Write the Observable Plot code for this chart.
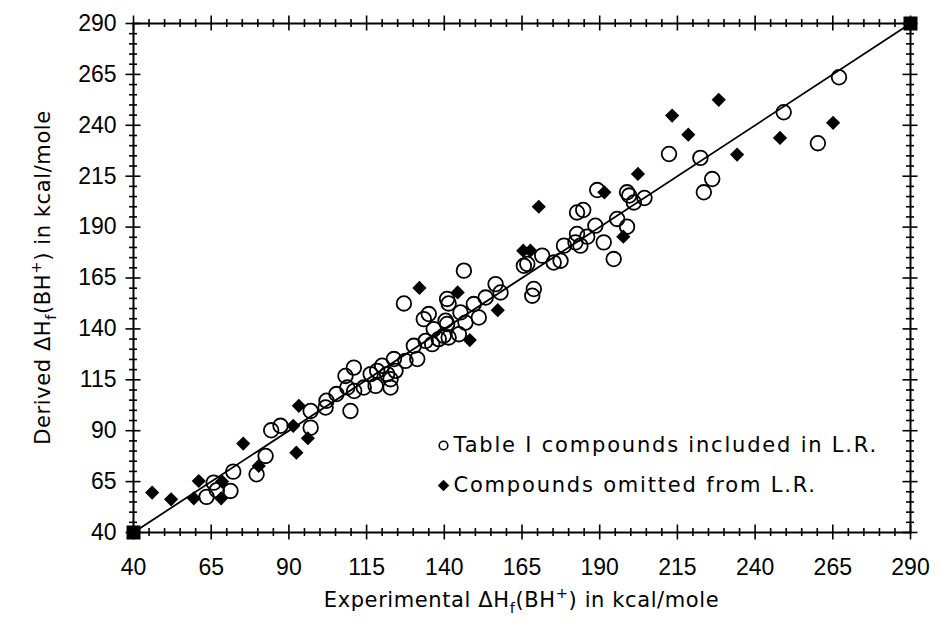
<!DOCTYPE html>
<html><head><meta charset="utf-8">
<script src="https://cdn.jsdelivr.net/npm/d3@7"></script>
<script src="https://cdn.jsdelivr.net/npm/@observablehq/plot@0.6"></script>
<style>body{margin:0;background:#fff}</style>
</head><body><div id="chart"></div>
<script>
// Table I compounds included in L.R. (open circles)
const includedX = [63.5,65.8,66.8,71.2,72.1,79.6,82.5,84.3,87.3,
  97.0,97.0,101.8,102.1,105.3,108.8,109.8,108.2,110.9,114.1,117.9,116.3,118.4,120.0,121.6,122.7,123.8,122.7,124.3,127.5,131.3,130.2,134.0,136.1,139.8,111.0,
  127.0,146.3,140.9,141.4,156.5,158.1,165.6,166.7,168.8,168.3,171.5,175.2,177.4,178.5,182.2,133.4,135.0,136.6,140.4,145.2,146.8,149.5,153.3,151.1,144.7,140.9,138.2,141.4,
  212.3,222.4,226.2,223.5,189.2,198.8,201.0,204.4,182.7,184.7,195.6,188.6,198.8,182.7,186.0,183.8,191.3,194.5,199.5,
  267.0,249.2,260.2];
const includedY = [57.5,64.5,60.8,60.4,69.9,68.6,77.6,90.2,92.4,
  99.7,91.5,101.4,104.7,108.0,111.2,99.7,116.9,121.0,111.2,112.0,117.8,119.4,121.9,117.8,111.2,125.2,115.3,119.4,124.3,125.2,131.7,134.1,132.5,136.6,109.5,
  152.5,168.6,154.7,152.5,162.0,157.9,171.0,171.9,159.6,156.3,176.0,172.6,173.5,180.9,182.5,144.8,147.3,139.9,144.0,148.1,143.1,152.2,155.4,145.6,137.4,142.4,135.0,135.8,
  225.9,224.0,213.6,207.1,208.2,207.1,202.1,204.3,197.2,198.4,194.0,190.7,190.2,186.6,185.3,180.9,182.5,174.3,205.5,
  263.6,246.4,231.2];
// Compounds omitted from L.R. (filled diamonds)
const omittedX = [46.0,52.1,59.4,61.0,68.5,68.2,75.3,80.3,91.4,92.4,93.2,96.1,132.0,144.3,157.2,148.2,165.4,167.7,170.4,191.5,202.3,197.6,213.3,228.3,218.5,234.2,248.0,265.1];
const omittedY = [59.6,56.3,56.8,65.3,65.0,56.8,83.7,72.7,92.4,79.2,102.2,86.3,160.1,157.9,149.2,134.5,178.4,178.4,200.0,207.1,216.1,185.3,244.8,252.5,235.4,225.6,233.8,241.2];
// Regression line and its end markers
const fitX = [40, 290];
const fitY = [40, 290];
// Axis ticks
const majorTicks = [40, 65, 90, 115, 140, 165, 190, 215, 240, 265, 290];
const minorTicks = d3.range(40, 291, 5).filter(v => !majorTicks.includes(v));
const legendLabels = ["Table I compounds included in L.R.", "Compounds omitted from L.R."];

const included = includedX.map((x, i) => ({x, y: includedY[i]}));
const omitted = omittedX.map((x, i) => ({x, y: omittedY[i]}));
const fit = fitX.map((x, i) => ({x, y: fitY[i]}));

const tk = {stroke: "black", strokeWidth: 1.6};
const ML = 133, MR = 29, MT = 23, MB = 90;

const chart = Plot.plot({
  width: 939, height: 622,
  marginLeft: ML, marginRight: MR, marginTop: MT, marginBottom: MB,
  x: {domain: [40, 290]},
  y: {domain: [40, 290]},
  style: {background: "white", fontFamily: "'Liberation Sans', Arial, sans-serif", color: "black"},
  marks: [
    Plot.axisX({ticks: majorTicks, tickSize: 0, tickPadding: 26, fontSize: 23, label: null, tickFormat: d => String(d)}),
    Plot.axisY({ticks: majorTicks, tickSize: 0, tickPadding: 17, fontSize: 23, label: null, tickFormat: d => String(d)}),
    Plot.frame({stroke: "black", strokeWidth: 2}),
    // bottom & top ticks
    Plot.ruleX(majorTicks, {x: d => d, y1: 40, y2: 40, insetTop: -7.5, insetBottom: -7.5, ...tk}),
    Plot.ruleX(minorTicks, {x: d => d, y1: 40, y2: 40, insetTop: -4, insetBottom: -4, ...tk}),
    Plot.ruleX(majorTicks, {x: d => d, y1: 290, y2: 290, insetTop: -7.5, insetBottom: -7.5, ...tk}),
    Plot.ruleX(minorTicks, {x: d => d, y1: 290, y2: 290, insetTop: -4, insetBottom: -4, ...tk}),
    // left & right ticks
    Plot.ruleY(majorTicks, {y: d => d, x1: 40, x2: 40, insetLeft: -7.5, insetRight: -7.5, ...tk}),
    Plot.ruleY(minorTicks, {y: d => d, x1: 40, x2: 40, insetLeft: -4, insetRight: -4, ...tk}),
    Plot.ruleY(majorTicks, {y: d => d, x1: 290, x2: 290, insetLeft: -7.5, insetRight: -7.5, ...tk}),
    Plot.ruleY(minorTicks, {y: d => d, x1: 290, x2: 290, insetLeft: -4, insetRight: -4, ...tk}),
    // regression line
    Plot.line(fit, {x: "x", y: "y", stroke: "black", strokeWidth: 1.8}),
    Plot.dot(fit, {x: "x", y: "y", symbol: "square", r: 7.9, fill: "black", stroke: "none"}),
    // data
    Plot.dot(included, {x: "x", y: "y", r: 7.3, stroke: "black", strokeWidth: 1.8, fill: "none"}),
    Plot.dot(omitted, {x: "x", y: "y", symbol: "diamond2", r: 6.4, fill: "black", stroke: "none"}),
    // legend
    Plot.dot([legendLabels[0]], {frameAnchor: "bottom-left", dx: 310, dy: -87, r: 4.3, stroke: "black", strokeWidth: 1.6, fill: "none"}),
    Plot.dot([legendLabels[1]], {frameAnchor: "bottom-left", dx: 310, dy: -47, symbol: "diamond2", r: 5.2, fill: "black", stroke: "none"}),
    Plot.text([legendLabels[0]], {text: d => d, frameAnchor: "bottom-left", dx: 320, dy: -87, textAnchor: "start", lineAnchor: "middle", fontSize: 21, fontFamily: "DejaVu Sans", fill: "black"}),
    Plot.text([legendLabels[1]], {text: d => d, frameAnchor: "bottom-left", dx: 320, dy: -47, textAnchor: "start", lineAnchor: "middle", fontSize: 21, fontFamily: "DejaVu Sans", fill: "black"})
  ]
});

const svg = d3.select(chart);
svg.selectAll("text").filter(function() { return this.textContent.includes("L.R."); })
  .attr("letter-spacing", 1.8);

function richTitle(g, fs) {
  return g.append("text").attr("font-family", "DejaVu Sans").attr("font-size", fs)
    .attr("fill", "black").attr("letter-spacing", 0.6).attr("text-anchor", "middle");
}
function fill(t, prefix, fs) {
  t.append("tspan").text(prefix + "\u0394H");
  t.append("tspan").attr("font-size", fs * 0.7).attr("dy", fs * 0.3).text("f");
  t.append("tspan").attr("dy", -fs * 0.3).text("(BH");
  t.append("tspan").attr("font-size", fs * 0.7).attr("dy", -fs * 0.42).text("+");
  t.append("tspan").attr("dy", fs * 0.42).text(") in kcal/mole");
}
const fs = 21;
const tx = richTitle(svg, fs).attr("x", (ML + 939 - MR) / 2).attr("y", 607);
fill(tx, "Experimental ", fs);
const ty = richTitle(svg, fs).attr("transform", `translate(50,${(MT + 622 - MB) / 2}) rotate(-90)`);
fill(ty, "Derived ", fs);

document.getElementById("chart").appendChild(chart);
</script>
</body></html>
